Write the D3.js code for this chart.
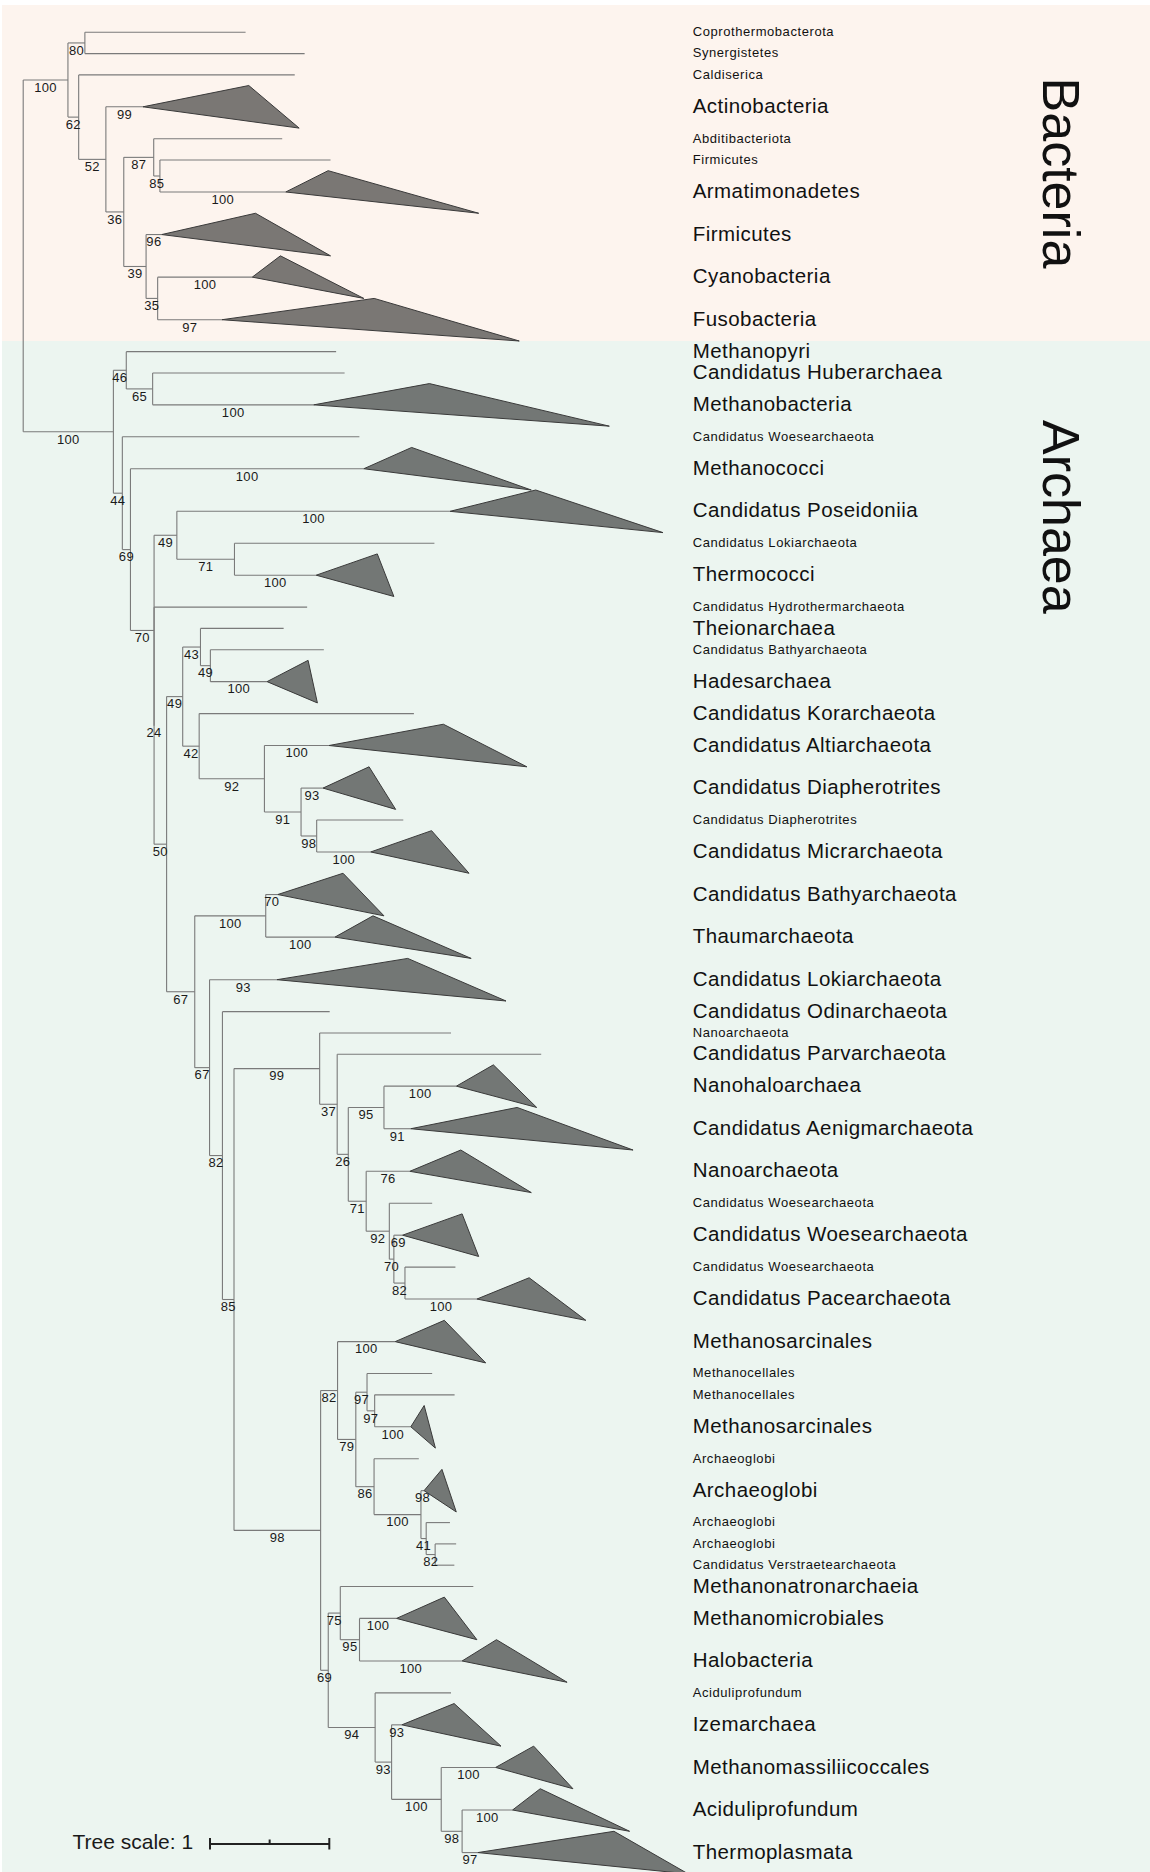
<!DOCTYPE html>
<html lang="en">
<head>
<meta charset="utf-8">
<title>Bacteria / Archaea tree</title>
<script src="https://cdn.jsdelivr.net/npm/d3@7"></script>
<style>
	body { margin: 0; background: #fff; }
	svg { display: block; font-family: "Liberation Sans", Arial, sans-serif; }
	.branch { stroke: #7a7a7a; stroke-width: 1.1; }
	.clade { fill: #232323; fill-opacity: 0.6; stroke: #3a3a3a; stroke-width: 1; }
	.support { font-size: 13px; letter-spacing: 0.3px; fill: #1a1a1a; text-anchor: middle; }
	.tip { fill: #111; }
	.tip-small { font-size: 13px; letter-spacing: 0.57px; }
	.tip-large { font-size: 20.5px; letter-spacing: 0.45px; }
	.domain { font-size: 52px; fill: #111; }
	.scalebar { stroke: #222; stroke-width: 2; }
</style>
</head>
<body>
<svg id="chart" width="1150" height="1872"></svg>
<script>

// topology, branch lengths (tree scale units) and support values; tips are t1..t57 top to bottom
var newick = "(" +
	"((t1:1.347,t2:1.842)80:0.142,(t3:1.811,(t4:0.311,((t5:1.077,(t6:1.430,t7:1.055)85:0.052)87:0.251,(t8:0.131,(t9:0.793,t10:0.539)35:0.097)39:0.187)36:0.150)52:0.228)62:0.090)100:0.375," +
	"((t11:1.759,(t12:1.609,t13:1.350)65:0.221)46:0.108," +
	"(t14:1.987,(t15:1.956,((t16:2.290,(t17:1.676,t18:0.685)71:0.483)49:0.191,(t19:1.283,(" +
	"((t20:0.697,(t21:0.951,t22:0.475)49:0.083)43:0.149,(t23:1.800,(t24:0.542,(t25:0.184,(t26:0.726,t27:0.453)98:0.131)91:0.307)92:0.547)42:0.138)49:0.135," +
	"((t28:0.101,t29:0.580)100:0.595,(t30:0.565,(t31:0.899,(" +
	"(t32:1.101,(t33:1.710,((t34:0.607,t35:0.225)95:0.299,(t36:0.366,(t37:0.359,(t38:0.073,(t39:0.423,t40:0.603)82:0.093)70:0.038)92:0.194)71:0.150)26:0.093)37:0.147)99:0.718," +
	"((t41:0.483,((t42:0.546,(t43:0.670,t44:0.303)97:0.064)97:0.094,(t45:0.375,(t46:0.026,(t47:0.199,(t48:0.176,t49:0.161)82:0.075)41:0.044)100:0.393)86:0.153)79:0.153)82:0.142," +
	"((t50:1.115,(t51:0.310,t52:0.860)95:0.161)75:0.101,(t53:0.636,(t54:0.086,(t55:0.456,(t56:0.423,t57:0.132)98:0.175)100:0.416)93:0.138)94:0.393)69:0.064)98:0.726" +
	")85:0.097)82:0.108)67:0.124)67:0.236" +
	")50:0.105)24:0)70:0.198)69:0.068)44:0.075" +
	")100:0.756" +
	");"

var tipNames = [
	"Coprothermobacterota", "Synergistetes", "Caldiserica", "Actinobacteria", "Abditibacteriota",
	"Firmicutes", "Armatimonadetes", "Firmicutes", "Cyanobacteria", "Fusobacteria",
	"Methanopyri", "Candidatus Huberarchaea", "Methanobacteria", "Candidatus Woesearchaeota", "Methanococci",
	"Candidatus Poseidoniia", "Candidatus Lokiarchaeota", "Thermococci", "Candidatus Hydrothermarchaeota", "Theionarchaea",
	"Candidatus Bathyarchaeota", "Hadesarchaea", "Candidatus Korarchaeota", "Candidatus Altiarchaeota", "Candidatus Diapherotrites",
	"Candidatus Diapherotrites", "Candidatus Micrarchaeota", "Candidatus Bathyarchaeota", "Thaumarchaeota", "Candidatus Lokiarchaeota",
	"Candidatus Odinarchaeota", "Nanoarchaeota", "Candidatus Parvarchaeota", "Nanohaloarchaea", "Candidatus Aenigmarchaeota",
	"Nanoarchaeota", "Candidatus Woesearchaeota", "Candidatus Woesearchaeota", "Candidatus Woesearchaeota", "Candidatus Pacearchaeota",
	"Methanosarcinales", "Methanocellales", "Methanocellales", "Methanosarcinales", "Archaeoglobi",
	"Archaeoglobi", "Archaeoglobi", "Archaeoglobi", "Candidatus Verstraetearchaeota", "Methanonatronarchaeia",
	"Methanomicrobiales", "Halobacteria", "Aciduliprofundum", "Izemarchaea", "Methanomassiliicoccales",
	"Aciduliprofundum", "Thermoplasmata"
]

// collapsed clades: support of the clade branch, then the shortest and longest leaf depth inside it
// (null = a single leaf)
var cladeSupport = [
	null, null, null, 99, null, null, 100, 96, 100, 97,
	null, null, 100, null, 100, 100, null, 100, null, null,
	null, 100, null, 100, 93, null, 100, 70, 100, 93,
	null, null, null, 100, 91, 76, null, 69, null, 100,
	100, null, null, 100, null, 98, null, null, null, null,
	100, 100, null, 93, 100, 100, 97
]
var cladeNear = [
	null, null, null, 0.887, null, null, 0.355, 0.786, 0.236, 1.276,
	null, null, 0.970, null, 0.401, 0.718, null, 0.512, null, null,
	null, 0.344, null, 0.958, 0.386, null, 0.510, 0.547, 0.319, 1.096,
	null, null, null, 0.310, 0.891, 0.427, null, 0.499, null, 0.438,
	0.412, null, null, 0.112, null, 0.150, null, null, null, null,
	0.401, 0.288, null, 0.438, 0.319, 0.232, 1.141
]
var cladeFar = [
	null, null, null, 1.309, null, null, 1.617, 1.415, 0.935, 2.492,
	null, null, 2.478, null, 1.404, 1.785, null, 0.651, null, null,
	null, 0.422, null, 1.658, 0.609, null, 0.824, 0.890, 1.142, 1.920,
	null, null, null, 0.673, 1.863, 1.018, null, 0.638, null, 0.913,
	0.759, null, null, 0.206, null, 0.270, null, null, null, null,
	0.674, 0.880, null, 0.831, 0.648, 0.981, 1.763
]

var domainNames = ["Bacteria", "Archaea"]
var domainFirstTip = [1, 11]
var scaleBarLength = 1

// single leaves that still get the big label font
var largeLabelTips = [11, 12, 20, 23, 31, 33, 50]
var bandColors = ["#fdf4ee", "#ecf5f0"]
var domainLabelOffset = [72.5, 79]

function parseNewick(s) {
	var i = 0
	function readNode() {
		var n = {name: "", length: 0}
		if (s[i] == "(") {
			i++
			n.children = []
			do { n.children.push(readNode()) } while (s[i++] == ",")
		}
		while (i < s.length && ",():;".indexOf(s[i]) < 0) n.name += s[i++]
		if (s[i] == ":") {
			i++
			var len = ""
			while (i < s.length && ",():;".indexOf(s[i]) < 0) len += s[i++]
			n.length = +len
		}
		return n
	}
	return readNode()
}

var root = d3.hierarchy(parseNewick(newick))
root.eachBefore(function(d) { d.dist = d.parent ? d.parent.dist + d.data.length : 0 })

// a leaf takes one row, a collapsed clade two
var leaves = root.leaves()
var row = 0
leaves.forEach(function(d) {
	d.tip = +d.data.name.slice(1) - 1
	d.collapsed = cladeSupport[d.tip] != null
	d.row0 = row
	row += d.collapsed ? 2 : 1
	d.rowMid = d.collapsed ? d.row0 + 1 : d.row0 + 0.5
})
root.eachAfter(function(d) {
	if (d.children) d.rowMid = (d.children[0].rowMid + d.children[d.children.length - 1].rowMid) / 2
})

var x = d3.scaleLinear().domain([0, 1]).range([23.2, 142.5])
var y = d3.scaleLinear().domain([0, row]).range([21.65, 21.65 + row * 21.29])

var svg = d3.select("#chart")

// domain bands
var bandTops = domainFirstTip.map(function(t, i) { return y(leaves[t - 1].row0) - (i == 0 ? 16.6 : 0) })
svg.selectAll("rect.band")
	.data(domainNames)
	.enter().append("rect")
	.attr("class", "band")
	.attr("x", 2)
	.attr("width", 1148)
	.attr("y", function(d, i) { return bandTops[i] })
	.attr("height", function(d, i) { return (i + 1 < bandTops.length ? bandTops[i + 1] : 1872) - bandTops[i] })
	.style("fill", function(d, i) { return bandColors[i] })

svg.selectAll("text.domain")
	.data(domainNames)
	.enter().append("text")
	.attr("class", "domain")
	.attr("transform", function(d, i) { return "translate(1043," + (bandTops[i] + domainLabelOffset[i]) + ") rotate(90)" })
	.text(function(d) { return d })

var g = svg.append("g")

// vertical connectors
g.selectAll("line.vert")
	.data(root.descendants().filter(function(d) { return d.children }))
	.enter().append("line")
	.attr("class", "branch")
	.attr("x1", function(d) { return x(d.dist) })
	.attr("x2", function(d) { return x(d.dist) })
	.attr("y1", function(d) { return y(d.children[0].rowMid) })
	.attr("y2", function(d) { return y(d.children[d.children.length - 1].rowMid) })

// horizontal branches
g.selectAll("line.horiz")
	.data(root.descendants().filter(function(d) { return d.parent }))
	.enter().append("line")
	.attr("class", "branch")
	.attr("x1", function(d) { return x(d.parent.dist) })
	.attr("x2", function(d) { return x(d.dist) })
	.attr("y1", function(d) { return y(d.rowMid) })
	.attr("y2", function(d) { return y(d.rowMid) })

// collapsed clades
g.selectAll("polygon.clade")
	.data(leaves.filter(function(d) { return d.collapsed }))
	.enter().append("polygon")
	.attr("class", "clade")
	.attr("points", function(d) {
		return [
			[x(d.dist), y(d.rowMid)],
			[x(d.dist + cladeNear[d.tip]), y(d.row0)],
			[x(d.dist + cladeFar[d.tip]), y(d.row0 + 2)]
		].join(" ")
	})

// support values, under the middle of each branch
var supported = root.descendants().filter(function(d) {
	return d.parent && (d.children ? d.data.name != "" : d.collapsed)
})
g.selectAll("text.support")
	.data(supported)
	.enter().append("text")
	.attr("class", "support")
	.attr("x", function(d) { return x((d.parent.dist + d.dist) / 2) })
	.attr("y", function(d) { return y(d.rowMid) + 11.8 })
	.text(function(d) { return d.children ? d.data.name : cladeSupport[d.tip] })

// tip labels, aligned in one column
g.selectAll("text.tip")
	.data(leaves)
	.enter().append("text")
	.attr("class", function(d) {
		var big = d.collapsed || largeLabelTips.indexOf(d.tip + 1) >= 0
		return "tip " + (big ? "tip-large" : "tip-small")
	})
	.attr("x", 692.7)
	.attr("y", function(d) { return y(d.rowMid) })
	.attr("dy", "0.3em")
	.text(function(d) { return tipNames[d.tip] })

// tree scale
var sb = svg.append("g").attr("transform", "translate(210,1844)")
var barW = x(scaleBarLength) - x(0)
sb.append("line").attr("class", "scalebar").attr("x1", 0).attr("x2", barW).attr("y1", 0).attr("y2", 0)
sb.append("line").attr("class", "scalebar").attr("x1", 0).attr("x2", 0).attr("y1", -6).attr("y2", 5.5)
sb.append("line").attr("class", "scalebar").attr("x1", barW).attr("x2", barW).attr("y1", -6).attr("y2", 5.5)
sb.append("line").attr("class", "scalebar").attr("x1", barW / 2).attr("x2", barW / 2).attr("y1", -4.5).attr("y2", 0)
svg.append("text")
	.attr("x", 72.5)
	.attr("y", 1849.3)
	.style("font-size", "21px")
	.style("fill", "#1a1a1a")
	.text("Tree scale: " + scaleBarLength)

</script>
</body>
</html>
